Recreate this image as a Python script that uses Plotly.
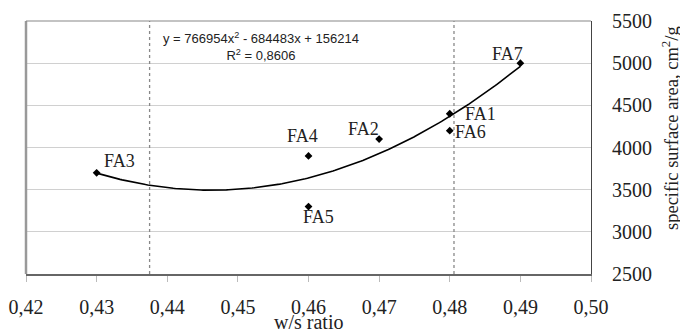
import numpy as np
import plotly.graph_objects as go

names = ["FA3", "FA4", "FA5", "FA2", "FA1", "FA6", "FA7"]
ws_ratio = [0.43, 0.46, 0.46, 0.47, 0.48, 0.48, 0.49]
ssa = [3700, 3900, 3300, 4100, 4400, 4200, 5000]

trend_coef = [766954, -684483, 156214]  # y = a x^2 + b x + c
r2_text = "0,8606"
vlines_x = [0.4375, 0.4806]

x_ticks = [0.42, 0.43, 0.44, 0.45, 0.46, 0.47, 0.48, 0.49, 0.50]
y_ticks = [2500, 3000, 3500, 4000, 4500, 5000, 5500]
x_title = "w/s ratio"
y_title = "specific surface area, cm<sup>2</sup>/g"

# label offsets in pixels (style only)
label_dx = [23, -6, 10, -16, 31, 21, -13]
label_dy = [12, 20, -10, 10, 0, -1, 9]

xc = np.linspace(min(ws_ratio), max(ws_ratio), 200)
yc = np.polyval(trend_coef, xc)

serif = "'Times New Roman', 'Liberation Serif', Tinos, serif"
fig = go.Figure()
fig.add_trace(go.Scatter(x=xc, y=yc, mode="lines", line=dict(color="black", width=1.6),
                         hoverinfo="skip", showlegend=False))
fig.add_trace(go.Scatter(x=ws_ratio, y=ssa, mode="markers",
                         marker=dict(symbol="diamond", size=6, color="black"),
                         showlegend=False))
for nm, xv, yv, dx, dy in zip(names, ws_ratio, ssa, label_dx, label_dy):
    fig.add_annotation(x=xv, y=yv, text=nm, showarrow=False, xanchor="center", yanchor="middle",
                       xshift=dx, yshift=dy,
                       font=dict(family=serif, size=18, color="#222"))
for vx in vlines_x:
    fig.add_shape(type="line", x0=vx, x1=vx, y0=0, y1=1, xref="x", yref="paper",
                  line=dict(color="#888", width=1.3, dash="dot"))
# left and top frame lines
fig.add_shape(type="line", x0=0, x1=0, y0=0, y1=1, xref="paper", yref="paper",
              line=dict(color="#999", width=2.5))
fig.add_shape(type="line", x0=0, x1=1, y0=1, y1=1, xref="paper", yref="paper",
              line=dict(color="#888", width=1.2))

fig.add_annotation(x=0.4533, xref="x", y=1, yref="paper", xanchor="center", yanchor="top",
                   yshift=-7,
                   text="y = 766954x<sup>2</sup> - 684483x + 156214<br>R<sup>2</sup> = " + r2_text,
                   showarrow=False, align="center",
                   font=dict(family="'Liberation Sans', Arial, sans-serif", size=13, color="#222"))

# axis titles
fig.add_annotation(x=0.5, xref="paper", y=0, yref="paper", xanchor="center", yanchor="middle",
                   yshift=-48, text=x_title, showarrow=False,
                   font=dict(family=serif, size=20, color="#222"))
fig.add_annotation(x=1, xref="paper", y=0.577, yref="paper", xanchor="center", yanchor="middle",
                   xshift=79, textangle=-90, text=y_title, showarrow=False,
                   font=dict(family=serif, size=18.5, color="#222"))

# the page body has an 8px margin; size the figure so the plot lands where the reference has it
fig.update_layout(
    width=680, height=328,
    margin=dict(l=18, r=97, t=13, b=62),
    paper_bgcolor="white", plot_bgcolor="white",
    separators=", ",
    xaxis=dict(range=[0.42, 0.50], tickvals=x_ticks, tickformat=".2f",
               showgrid=False, zeroline=False, automargin=False,
               showline=True, linecolor="#666", linewidth=1.5,
               ticks="outside", ticklen=6, tickcolor="#bbb", tickwidth=1,
               ticklabelstandoff=8,
               tickfont=dict(family=serif, size=20, color="#222")),
    yaxis=dict(range=[2500, 5500], tickvals=y_ticks, side="right",
               showgrid=True, gridcolor="#d0d0d0", gridwidth=1, zeroline=False, automargin=False,
               showline=True, linecolor="#444", linewidth=1.2,
               ticks="", ticklabelstandoff=16,
               tickfont=dict(family=serif, size=20, color="#222")),
)
fig.write_html("out.html")
